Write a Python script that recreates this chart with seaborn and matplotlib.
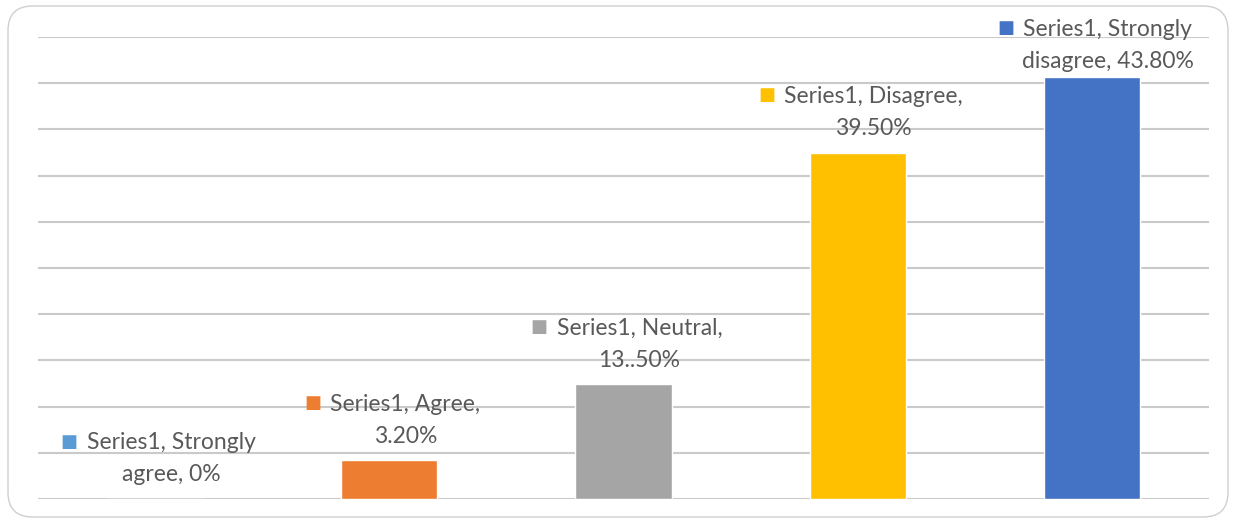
import textwrap
import matplotlib
matplotlib.use("Agg")
from matplotlib import pyplot as plt
from matplotlib.patches import FancyBboxPatch
import seaborn as sns
import pandas as pd

sns.set_theme(style="white")
plt.rcParams["font.family"] = ["Lato", "DejaVu Sans"]

# data
series_name = "Series1"
categories = ["Strongly agree", "Agree", "Neutral", "Disagree", "Strongly disagree"]
bar_heights = [0, 4.2, 12.4, 37.5, 45.7]  # drawn bar heights (gridline = 5)
value_labels = ["0%", "3.20%", "13..50%", "39.50%", "43.80%"]
colors = ["#5B9BD5", "#ED7D31", "#A5A5A5", "#FFC000", "#4472C4"]

TEXT_COLOR = "#595959"
GRID_COLOR = "#CACACA"
Y_MAX = 50
LABEL_TOP = 47.4  # labels can't go above this (in data units)

df = pd.DataFrame({"category": categories, "value": bar_heights})

W, H = 1234, 524
fig = plt.figure(figsize=(W / 100, H / 100), dpi=100)

# rounded chart-area border
border = FancyBboxPatch(
    (8 / W, 7 / H), 1220 / W, 511 / H,
    boxstyle="round,pad=0,rounding_size=0.02",
    transform=fig.transFigure, facecolor="none", edgecolor="#CFCFCF",
    linewidth=1.0, mutation_aspect=W / H, zorder=-1,
)
fig.patches.append(border)

ax = fig.add_axes([38 / W, (H - 499) / H, (1209 - 38) / W, (499 - 37) / H])
ax.set_facecolor("none")

sns.barplot(
    data=df, x="category", y="value", hue="category",
    palette=colors, width=0.41, legend=False, ax=ax, saturation=1,
)

ax.set_ylim(0, Y_MAX)
ax.set_xlim(-0.5, len(categories) - 0.5)
ax.set_yticks(range(0, Y_MAX + 1, 5))
ax.yaxis.grid(True, color=GRID_COLOR, linewidth=1.5)
ax.set_axisbelow(True)
for s in ax.spines.values():
    s.set_visible(False)
ax.set_xticklabels([])
ax.set_yticklabels([])
ax.tick_params(length=0)
ax.set_xlabel("")
ax.set_ylabel("")

# data labels: "Series1, <category>, <value>" wrapped over two lines
for i, (cat, h, val, c) in enumerate(zip(categories, bar_heights, value_labels, colors)):
    line1, line2 = textwrap.wrap(f"{series_name}, {cat}, {val}", width=18)
    y = min(h + 2.6, LABEL_TOP)
    t2 = ax.annotate(line2, xy=(i, y), xytext=(16, 0), textcoords="offset pixels",
                     ha="center", va="center", fontsize=16.5, color=TEXT_COLOR)
    t1 = ax.annotate(line1, xy=(i, y), xytext=(16, 32), textcoords="offset pixels",
                     ha="center", va="center", fontsize=16.5, color=TEXT_COLOR)
    ax.annotate("■", xy=(0, 0.5), xycoords=t1, xytext=(-9, 1),
                textcoords="offset pixels", ha="right", va="center",
                fontsize=13, color=c, family="DejaVu Sans")

fig.savefig("out.png", dpi=100, facecolor="white")
